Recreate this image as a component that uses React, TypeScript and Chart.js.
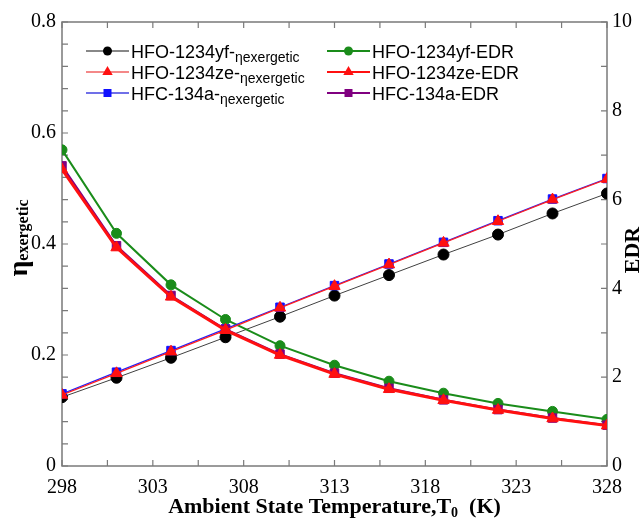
import React, { useEffect, useRef } from 'react';
import { Chart, registerables } from 'chart.js';

Chart.register(...registerables);

// ---------- data ----------
const temperatures = [298, 301, 304, 307, 310, 313, 316, 319, 322, 325, 328];

const yfEta = [0.124, 0.159, 0.195, 0.232, 0.269, 0.307, 0.344, 0.381, 0.417, 0.455, 0.491];
const zeEta = [0.128, 0.167, 0.206, 0.245, 0.285, 0.324, 0.363, 0.402, 0.441, 0.48, 0.517];
const r134aEta = [0.13, 0.169, 0.208, 0.247, 0.286, 0.325, 0.364, 0.403, 0.442, 0.481, 0.518];

const yfEDR = [7.12, 5.24, 4.08, 3.3, 2.71, 2.27, 1.91, 1.64, 1.41, 1.23, 1.05];
const zeEDR = [6.68, 4.92, 3.81, 3.06, 2.5, 2.07, 1.73, 1.48, 1.26, 1.07, 0.91];
const r134aEDR = [6.76, 4.96, 3.84, 3.08, 2.52, 2.09, 1.75, 1.49, 1.27, 1.08, 0.92];

const xRange = [298, 328];
const xLabelStep = 5;
const xMinorStep = 2.5;
const etaRange = [0, 0.8];
const etaLabelStep = 0.2;
const etaMinorStep = 0.04;
const edrRange = [0, 10];
const edrLabelStep = 2;
const edrMinorStep = 1;

const legendItems = [
  { main: 'HFO-1234yf-', sub: 'ηexergetic', color: '#000000', line: '#606060', style: 'circle', col: 0, row: 0 },
  { main: 'HFO-1234ze-', sub: 'ηexergetic', color: '#ff1010', line: '#f06060', style: 'triangle', col: 0, row: 1 },
  { main: 'HFC-134a-', sub: 'ηexergetic', color: '#1010ff', line: '#4040e0', style: 'rect', col: 0, row: 2 },
  { main: 'HFO-1234yf-EDR', sub: '', color: '#1a8c1a', line: '#1a8c1a', style: 'circle', col: 1, row: 0 },
  { main: 'HFO-1234ze-EDR', sub: '', color: '#ff1010', line: '#ff1010', style: 'triangle', col: 1, row: 1 },
  { main: 'HFC-134a-EDR', sub: '', color: '#800080', line: '#800080', style: 'rect', col: 1, row: 2 },
];

const SERIF = '"Liberation Serif", "Times New Roman", serif';
const SANS = '"Liberation Sans", Arial, sans-serif';

function pts(ys: number[]) {
  return temperatures.map((t, i) => ({ x: t, y: ys[i] }));
}

function drawMarker(ctx: CanvasRenderingContext2D, style: string, x: number, y: number, color: string) {
  ctx.save();
  ctx.fillStyle = color;
  ctx.beginPath();
  if (style === 'circle') {
    ctx.arc(x, y, 4.5, 0, Math.PI * 2);
  } else if (style === 'triangle') {
    const r = 6;
    ctx.moveTo(x, y - r);
    ctx.lineTo(x + r * 0.866, y + r * 0.5);
    ctx.lineTo(x - r * 0.866, y + r * 0.5);
    ctx.closePath();
  } else {
    ctx.rect(x - 4, y - 4, 8, 8);
  }
  ctx.fill();
  ctx.restore();
}

const framePlugin = {
  id: 'frame',
  beforeDatasetsDraw(chart: any) {
    const { ctx, chartArea } = chart;
    const { left, right, top, bottom } = chartArea;
    const x = chart.scales.x;
    const y = chart.scales.y;
    const y1 = chart.scales.y1;
    ctx.save();
    ctx.strokeStyle = '#7a7a7a';
    ctx.lineWidth = 1.5;
    ctx.strokeRect(left, top, right - left, bottom - top);
    ctx.lineWidth = 1.2;
    ctx.beginPath();
    for (let v = xRange[0]; v <= xRange[1] + 1e-9; v += xMinorStep) {
      const px = x.getPixelForValue(v);
      ctx.moveTo(px, bottom);
      ctx.lineTo(px, bottom - 6);
      ctx.moveTo(px, top);
      ctx.lineTo(px, top + 6);
    }
    for (let v = etaRange[0]; v <= etaRange[1] + 1e-9; v += etaMinorStep) {
      const py = y.getPixelForValue(v);
      ctx.moveTo(left, py);
      ctx.lineTo(left + 6, py);
    }
    for (let v = edrRange[0]; v <= edrRange[1] + 1e-9; v += edrMinorStep) {
      const py = y1.getPixelForValue(v);
      ctx.moveTo(right, py);
      ctx.lineTo(right - 6, py);
    }
    ctx.stroke();
    ctx.restore();
  },
  afterDraw(chart: any) {
    const { ctx, chartArea } = chart;
    const { left, right } = chartArea;
    ctx.save();
    ctx.fillStyle = '#000';
    ctx.textBaseline = 'alphabetic';

    // x title
    const xMain = 'Ambient State Temperature,T';
    const xSub = '0';
    const xTail = '  (K)';
    ctx.font = `bold 22px ${SERIF}`;
    const w1 = ctx.measureText(xMain).width;
    const w3 = ctx.measureText(xTail).width;
    ctx.font = `bold 14px ${SERIF}`;
    const w2 = ctx.measureText(xSub).width;
    const total = w1 + w2 + w3;
    const sx = (left + right) / 2 - total / 2;
    const by = 513;
    ctx.font = `bold 22px ${SERIF}`;
    ctx.fillText(xMain, sx, by);
    ctx.font = `bold 14px ${SERIF}`;
    ctx.fillText(xSub, sx + w1, by + 4);
    ctx.font = `bold 22px ${SERIF}`;
    ctx.fillText(xTail, sx + w1 + w2, by);

    // left title
    ctx.save();
    ctx.translate(27, 238);
    ctx.rotate(-Math.PI / 2);
    ctx.font = `bold 28px ${SERIF}`;
    const e1 = ctx.measureText('η').width;
    ctx.font = `bold 16px ${SERIF}`;
    const e2 = ctx.measureText('exergetic').width;
    const et = e1 + e2;
    ctx.font = `bold 28px ${SERIF}`;
    ctx.fillText('η', -et / 2, 0);
    ctx.font = `bold 16px ${SERIF}`;
    ctx.fillText('exergetic', -et / 2 + e1, 1);
    ctx.restore();

    // right title
    ctx.save();
    ctx.translate(639, 250);
    ctx.rotate(-Math.PI / 2);
    ctx.font = `bold 22px ${SERIF}`;
    ctx.textAlign = 'center';
    ctx.fillText('EDR', 0, 0);
    ctx.restore();

    // legend
    const colX = [86, 327];
    const rowY = [51, 72, 93];
    for (const it of legendItems) {
      const lx = colX[it.col];
      const ly = rowY[it.row];
      ctx.strokeStyle = it.line;
      ctx.lineWidth = it.col === 0 ? 1.5 : 2;
      ctx.beginPath();
      ctx.moveTo(lx, ly);
      ctx.lineTo(lx + 43, ly);
      ctx.stroke();
      drawMarker(ctx, it.style, lx + 21.5, ly, it.color);
      ctx.fillStyle = '#000';
      ctx.font = `18px ${SANS}`;
      const tx = lx + 45;
      ctx.fillText(it.main, tx, ly + 7);
      if (it.sub) {
        const mw = ctx.measureText(it.main).width;
        ctx.font = `14px ${SANS}`;
        ctx.fillText(it.sub, tx + mw, ly + 11);
      }
    }
    ctx.restore();
  },
};

export default function App() {
  const ref = useRef<HTMLCanvasElement | null>(null);

  useEffect(() => {
    if (!ref.current) return;
    const tickFont = { family: SERIF, size: 20 };
    const chart = new Chart(ref.current, {
      type: 'line',
      data: {
        datasets: [
          {
            label: 'HFO-1234ze-EDR', data: pts(zeEDR), yAxisID: 'y1', order: 0,
            borderColor: '#ff1010', backgroundColor: '#ff1010', borderWidth: 3,
            pointStyle: 'triangle', pointRadius: 6.5, pointBorderWidth: 1, pointBorderColor: '#ff1010',
          },
          {
            label: 'HFO-1234ze-ηexergetic', data: pts(zeEta), yAxisID: 'y', order: 1,
            borderColor: '#ff2020', backgroundColor: '#ff1010', borderWidth: 1.3,
            pointStyle: 'triangle', pointRadius: 6.5, pointBorderWidth: 1, pointBorderColor: '#ff1010',
          },
          {
            label: 'HFC-134a-EDR', data: pts(r134aEDR), yAxisID: 'y1', order: 2,
            borderColor: '#800080', backgroundColor: '#800080', borderWidth: 2,
            pointStyle: 'rect', pointRadius: 6, pointBorderWidth: 1, pointBorderColor: '#800080',
          },
          {
            label: 'HFC-134a-ηexergetic', data: pts(r134aEta), yAxisID: 'y', order: 3,
            borderColor: '#2020ff', backgroundColor: '#1010ff', borderWidth: 1.3,
            pointStyle: 'rect', pointRadius: 6, pointBorderWidth: 1, pointBorderColor: '#1010ff',
          },
          {
            label: 'HFO-1234yf-EDR', data: pts(yfEDR), yAxisID: 'y1', order: 4,
            borderColor: '#1a8c1a', backgroundColor: '#1a8c1a', borderWidth: 2,
            pointStyle: 'circle', pointRadius: 5, pointBorderWidth: 1, pointBorderColor: '#1a8c1a',
          },
          {
            label: 'HFO-1234yf-ηexergetic', data: pts(yfEta), yAxisID: 'y', order: 5,
            borderColor: '#404040', backgroundColor: '#000000', borderWidth: 1,
            pointStyle: 'circle', pointRadius: 5.5, pointBorderWidth: 1, pointBorderColor: '#000000',
          },
        ],
      },
      options: {
        responsive: false,
        animation: false,
        maintainAspectRatio: false,
        layout: { padding: { top: 22, left: 0, right: 0, bottom: 0 } },
        plugins: { legend: { display: false }, tooltip: { enabled: false }, title: { display: false } },
        elements: { line: { tension: 0 } },
        scales: {
          x: {
            type: 'linear', min: xRange[0], max: xRange[1],
            ticks: { stepSize: xLabelStep, font: tickFont, color: '#000', padding: 10, maxRotation: 0, autoSkip: false },
            grid: { display: false, drawTicks: false },
            border: { display: false },
            afterFit: (s: any) => { s.height = 56; },
          },
          y: {
            type: 'linear', position: 'left', min: etaRange[0], max: etaRange[1],
            ticks: { stepSize: etaLabelStep, font: tickFont, color: '#000', padding: 6 },
            grid: { display: false, drawTicks: false },
            border: { display: false },
            afterFit: (s: any) => { s.width = 62; },
          },
          y1: {
            type: 'linear', position: 'right', min: edrRange[0], max: edrRange[1],
            ticks: { stepSize: edrLabelStep, font: tickFont, color: '#000', padding: 5 },
            grid: { display: false, drawTicks: false },
            border: { display: false },
            afterFit: (s: any) => { s.width = 36; },
          },
        },
      },
      plugins: [framePlugin],
    } as any);
    return () => chart.destroy();
  }, []);

  return (
    <div style={{ position: 'fixed', left: 0, top: 0, width: 643, height: 522, background: '#fff' }}>
      <canvas ref={ref} width={643} height={522} style={{ width: 643, height: 522 }} />
    </div>
  );
}
